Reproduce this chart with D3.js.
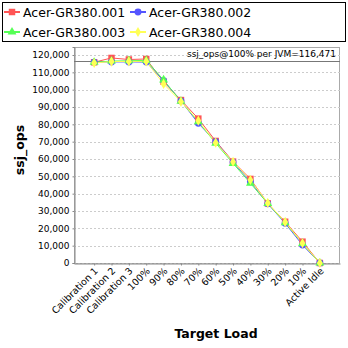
<!DOCTYPE html>
<html><head><meta charset="utf-8">
<script src="https://cdn.jsdelivr.net/npm/d3@7/dist/d3.min.js"></script>
<style>body{margin:0;background:#fff}svg{display:block}text{font-family:"DejaVu Sans",sans-serif}</style>
</head><body><svg id="c" width="348" height="348"></svg>
<script>
const categories = ["Calibration 1","Calibration 2","Calibration 3","100%","90%","80%","70%","60%","50%","40%","30%","20%","10%","Active Idle"];
const seriesNames = ["Acer-GR380.001","Acer-GR380.002","Acer-GR380.003","Acer-GR380.004"];
const s001 = [115800,118300,117400,117700,104600,94000,83300,70400,58500,48500,34400,23800,12300,0];
const s002 = [115900,116000,116000,115900,105200,93500,80600,70000,58200,46900,34200,22900,10400,0];
const s003 = [115800,116500,116700,116900,105600,93300,81500,69100,57500,46000,34300,23300,11300,0];
const s004 = [115400,116200,116300,116300,103300,93100,82100,69400,58400,47900,34600,23600,11400,0];
const yTicks = [0,10000,20000,30000,40000,50000,60000,70000,80000,90000,100000,110000,120000];
const refValue = 116471;
const refLabel = "ssj_ops@100% per JVM=116,471";
const colors = ["#FF5555","#5555FF","#55FF55","#FFFF55"];
const series = [s001,s002,s003,s004];

const svg = d3.select("#c");
const L=74,R=340,T=47,B=263;
const x = d3.scalePoint().domain(categories).range([L,R]).padding(1.16);
const y = d3.scaleLinear().domain([0,124615]).range([B,T]);

// legend
svg.append("rect").attr("x",2.5).attr("y",2.5).attr("width",343).attr("height",39).attr("fill","#fff").attr("stroke","#000");
const sym = [d3.symbolSquare,d3.symbolCircle,d3.symbolTriangle,d3.symbolDiamond];
const symSize=[42,38,34,30];
seriesNames.forEach((n,i)=>{
  const cx = i%2===0?12:138, cy = i<2?12:32;
  const g=svg.append("g");
  g.append("line").attr("x1",cx-8).attr("x2",cx+8).attr("y1",cy).attr("y2",cy).attr("stroke",colors[i]).attr("stroke-width",2);
  g.append("path").attr("d",d3.symbol(sym[i],symSize[i])()).attr("transform",`translate(${cx},${cy})`).attr("fill",colors[i]);
  g.append("text").attr("x",cx+11).attr("y",cy+4.5).attr("font-size",12.5).text(n);
});

// plot frame & grid
svg.append("rect").attr("x",L+0.5).attr("y",T+0.5).attr("width",R-L-1).attr("height",B-T).attr("fill","#fff").attr("stroke","#aaa");
yTicks.forEach(t=>{
  svg.append("line").attr("x1",L).attr("x2",R).attr("y1",Math.round(y(t))+0.5).attr("y2",Math.round(y(t))+0.5)
    .attr("stroke","#ccc").attr("stroke-dasharray","2,2");
});
// axes
const ya = svg.append("g").attr("transform",`translate(${L+0.5},0)`).call(d3.axisLeft(y).tickValues(yTicks).tickSize(2).tickFormat(d3.format(",")));
ya.selectAll("text").attr("font-size",9).attr("fill","#000").attr("font-family","DejaVu Sans");
ya.select(".domain").attr("stroke","#888");
ya.selectAll(".tick line").attr("stroke","#888");
const xa = svg.append("g").attr("transform",`translate(0,${B+0.5})`).call(d3.axisBottom(x).tickSize(2).tickSizeOuter(0));
xa.select(".domain").attr("stroke","#888");
xa.selectAll(".tick line").attr("stroke","#888");
xa.selectAll("text").attr("font-size",9.5).attr("fill","#000").attr("font-family","DejaVu Sans")
  .attr("text-anchor","end").attr("dy",0).attr("y",0)
  .attr("transform","translate(4,8) rotate(-45)");

// reference line
svg.append("line").attr("x1",L).attr("x2",R).attr("y1",Math.round(y(refValue))+0.5).attr("y2",Math.round(y(refValue))+0.5).attr("stroke","#777").attr("stroke-width",1);
svg.append("text").attr("x",336).attr("y",57).attr("text-anchor","end").attr("font-size",9).text(refLabel);

// series
const line = d3.line().x((d,i)=>x(categories[i])).y(d=>y(d));
series.forEach((s,i)=>{
  svg.append("path").datum(s).attr("d",line).attr("fill","none").attr("stroke",colors[i]).attr("stroke-width",1);
});
series.forEach((s,i)=>{
  svg.append("g").selectAll("path").data(s).join("path")
    .attr("d",d3.symbol(sym[i],symSize[i])())
    .attr("transform",(d,j)=>`translate(${x(categories[j])},${y(d)})`)
    .attr("fill",colors[i]);
});

// axis titles
svg.append("text").attr("transform","translate(24,150) rotate(-90)").attr("text-anchor","middle").attr("font-size",12.5).attr("font-weight","bold").text("ssj_ops");
svg.append("text").attr("x",216).attr("y",338).attr("text-anchor","middle").attr("font-size",12.5).attr("font-weight","bold").text("Target Load");
</script></body></html>
